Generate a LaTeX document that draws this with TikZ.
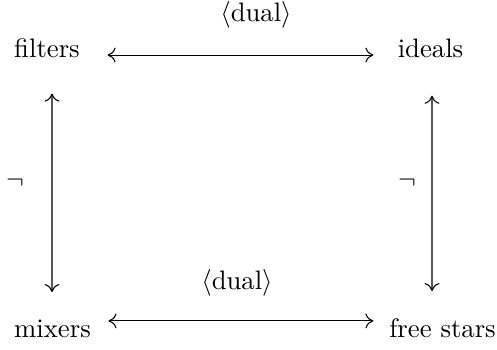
\documentclass[tikz,border=0pt]{standalone}
\usetikzlibrary{arrows.meta}
\begin{document}
\begin{tikzpicture}[x=0.3745pt, y=-0.3745pt,
  obj/.style={anchor=base, inner sep=3.33pt},
  lbl/.style={inner sep=0pt},
  dualarrow/.style={{Computer Modern Rightarrow[length=3pt,width=5.6pt]}-{Computer Modern Rightarrow[length=3pt,width=5.6pt]}, line width=0.4pt}]
\useasboundingbox (0,0) rectangle (497,350);

% the four objects
\node[obj] (filters) at (47,58) {filters};
\node[obj] (ideals) at (430.5,58) {ideals};
\node[obj] (mixers) at (52.5,338) {mixers};
\node[obj] (freestars) at (442.5,338) {free stars};

% horizontal duality arrows
\draw[dualarrow] ([xshift=6.9pt,yshift=1.1pt]filters.base east)
  -- ([xshift=-5.6pt,yshift=1.1pt]ideals.base west);
\draw[dualarrow] ([xshift=3.1pt,yshift=6.4pt]mixers.base east)
  -- ([xshift=-2.4pt,yshift=6.4pt]freestars.base west);

% vertical negation arrows
\draw[dualarrow] ([xshift=1.87pt,yshift=-9.7pt]filters.south)
  -- ([xshift=-0.19pt,yshift=7.1pt]mixers.north);
\draw[dualarrow] ([xshift=0.56pt,yshift=-10.5pt]ideals.south)
  -- ([xshift=-3.93pt,yshift=7.0pt]freestars.north);

% edge labels
\node[lbl, anchor=base] (dualtop) at (256,22) {$\langle$dual$\rangle$};
\node[lbl, anchor=base] (dualbot) at (237,290) {$\langle$dual$\rangle$};
\node[lbl] (negl) at (15,183) {$\neg$};
\node[lbl] (negr) at (407,183) {$\neg$};
\end{tikzpicture}
\end{document}
